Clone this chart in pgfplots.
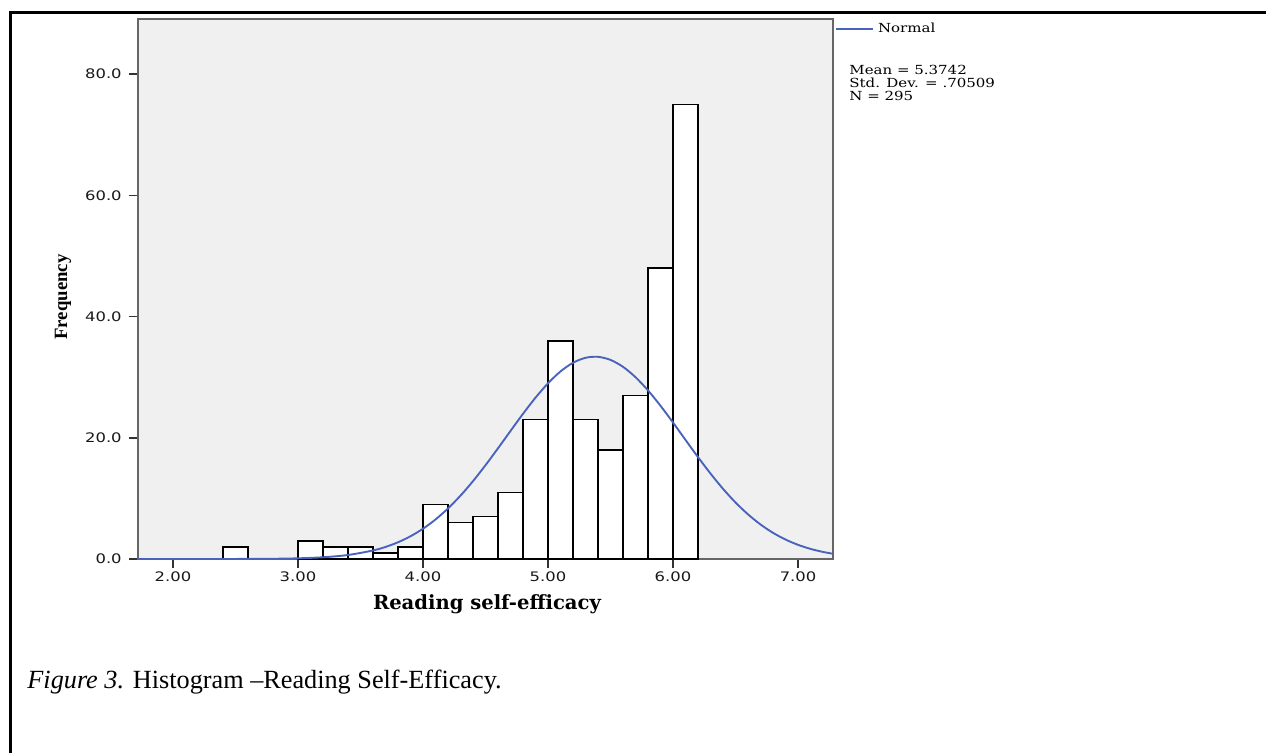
\documentclass[border=0pt]{standalone}
\usepackage{fontspec}
\setmainfont{Liberation Serif}
\newfontfamily\tickfont[FakeStretch=1.25]{DejaVu Sans}
\newfontfamily\labfont{DejaVu Serif}
\newfontfamily\statfont[FakeStretch=1.2]{DejaVu Serif}
\usepackage{pgfplots}
\pgfplotsset{compat=1.18}
\definecolor{bggray}{HTML}{F0F0F0}
\definecolor{curveblue}{RGB}{72,98,190}
\begin{document}
\begin{tikzpicture}
% page = 1266 x 753 px, 1 px = 0.48pt
\path[use as bounding box] (0,0) rectangle (607.68pt,-361.44pt);
\draw[line width=1.44pt] (607.68pt,-5.76pt) -- (4.8pt,-5.76pt) -- (4.8pt,-361.44pt);
\begin{axis}[
    at={(66.24pt,-268.32pt)}, anchor=south west,
    scale only axis, width=333.6pt, height=259.2pt,
    xmin=1.72, xmax=7.28, ymin=0, ymax=89.1,
    axis background/.style={fill=bggray},
    axis line style={draw=black!60, line width=1pt},
    xtick={2,3,4,5,6,7}, ytick={0,20,40,60,80},
    xtick pos=bottom, ytick pos=left,
    tick align=outside, major tick length=4.3pt,
    tick style={black!80, line width=0.7pt},
    ticklabel style={font=\tickfont\fontsize{6.3}{7}\selectfont, text=black!90},
    xticklabel shift=-1.5pt,
    /pgf/number format/assume math mode=true,
    x tick label style={/pgf/number format/.cd, fixed, fixed zerofill, precision=2},
    y tick label style={/pgf/number format/.cd, fixed, fixed zerofill, precision=1},
    legend style={at={(1,1)}, anchor=north west, xshift=1pt, yshift=0.3pt,
        draw=none, fill=none, font=\statfont\fontsize{6}{7}\selectfont,
        inner sep=0pt, outer sep=0pt},
    legend image code/.code={\draw[curveblue, line width=0.8pt] (0pt,0pt) -- (17.8pt,0pt);},
    clip=true]
    \addplot[ybar interval, fill=white, draw=black, line width=0.75pt, forget plot]
        coordinates {(2.4,2) (2.6,2)};
    \addplot[ybar interval, fill=white, draw=black, line width=0.75pt, forget plot]
        coordinates {(3.0,3) (3.2,2) (3.4,2) (3.6,1) (3.8,2) (4.0,9) (4.2,6)
        (4.4,7) (4.6,11) (4.8,23) (5.0,36) (5.2,23) (5.4,18) (5.6,27)
        (5.8,48) (6.0,75) (6.2,75)};
    \addplot[curveblue, line width=0.9pt, smooth] coordinates {
        (1.72,0) (2.0,0.0004) (2.4,0.004) (2.8,0.043) (3.0,0.115) (3.2,0.287)
        (3.4,0.662) (3.6,1.408) (3.7,1.991) (3.8,2.761) (3.9,3.752)
        (4.0,4.997) (4.1,6.521) (4.2,8.342) (4.3,10.46) (4.4,12.85)
        (4.5,15.48) (4.6,18.27) (4.7,21.13) (4.8,23.96) (4.9,26.62)
        (5.0,28.99) (5.1,30.95) (5.2,32.38) (5.3,33.20) (5.4,33.36)
        (5.5,32.85) (5.6,31.71) (5.7,30.00) (5.8,27.82) (5.9,25.28)
        (6.0,22.52) (6.1,19.65) (6.2,16.81) (6.3,14.10) (6.4,11.58)
        (6.5,9.330) (6.6,7.367) (6.7,5.698) (6.8,4.319) (6.9,3.211)
        (7.0,2.338) (7.1,1.669) (7.2,1.168) (7.28,0.865)};
    \addlegendentry{Normal}
\end{axis}
\begin{scope}[x=0.48pt, y=-0.48pt]
\node[font=\labfont\bfseries\fontsize{9.4}{10}\selectfont] at (487,604) {Reading self-efficacy};
\node[font=\bfseries\fontsize{9}{10}\selectfont, rotate=90] at (63,297) {Frequency};
\node[anchor=north west, align=left, inner sep=0pt,
      font=\statfont\fontsize{6}{6.1}\selectfont] at (849,65)
      {Mean = 5.3742\\Std. Dev. = .70509\\N = 295};
\node[anchor=base west, inner sep=0pt, font=\fontsize{12.6}{14}\selectfont] at (27,688)
      {\textit{Figure 3.} Histogram –Reading Self-Efficacy.};
\end{scope}
\end{tikzpicture}
\end{document}
